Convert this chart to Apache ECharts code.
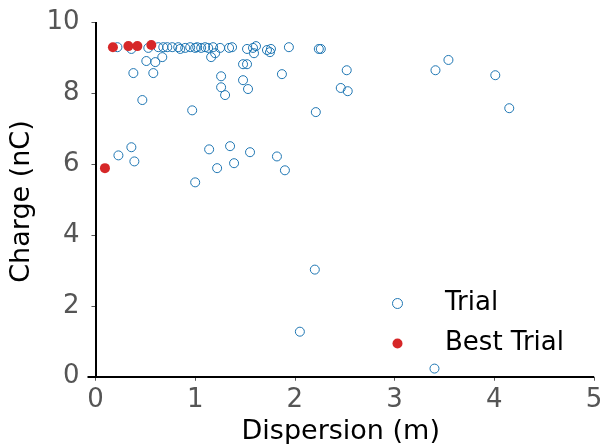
<!DOCTYPE html>
<html>
<head>
<meta charset="utf-8">
<script src="https://cdn.jsdelivr.net/npm/echarts@6/dist/echarts.min.js"></script>
<style>html,body{margin:0;padding:0;background:#fff}#c{width:602px;height:444px}</style>
</head>
<body>
<div id="c"></div>
<script>
// Data
const trialX = [0.22,0.36,0.53,0.63,0.68,0.72,0.77,0.83,0.85,0.90,0.95,1.00,1.02,1.06,1.10,1.13,1.18,1.25,1.34,1.37,1.52,1.58,1.61,1.59,1.72,1.75,1.76,1.94,2.24,2.26,
  1.20,1.16,0.67,0.51,0.60,0.38,0.58,1.26,1.48,1.52,1.48,1.26,1.30,1.53,1.87,0.47,0.97,2.21,2.52,2.46,2.53,3.41,3.54,4.01,4.15,
  0.23,0.36,0.39,1.14,1.35,1.55,1.22,1.39,1.00,1.82,1.90,
  2.20,2.05,3.40];
const trialY = [9.29,9.24,9.27,9.29,9.29,9.29,9.29,9.29,9.24,9.27,9.29,9.27,9.29,9.27,9.29,9.27,9.29,9.27,9.27,9.29,9.24,9.27,9.32,9.12,9.21,9.15,9.24,9.29,9.24,9.24,
  9.12,9.01,9.01,8.90,8.87,8.56,8.56,8.47,8.81,8.81,8.36,8.16,7.94,8.11,8.53,7.80,7.51,7.46,8.64,8.14,8.05,8.64,8.93,8.50,7.57,
  6.24,6.47,6.07,6.41,6.50,6.33,5.88,6.02,5.48,6.21,5.82,
  3.02,1.27,0.23];
const bestX = [0.095,0.175,0.33,0.42,0.56];
const bestY = [5.88,9.29,9.32,9.32,9.35];
const xTicks = [0,1,2,3,4,5];
const yTicks = [0,2,4,6,8,10];
const seriesNames = ['Trial','Best Trial'];
const xTitle = 'Dispersion (m)';
const yTitle = 'Charge (nC)';

const trialData = trialX.map((x,i)=>[x,trialY[i]]);
const bestData = bestX.map((x,i)=>[x,bestY[i]]);

const FONT = 'DejaVu Sans';
const BLUE = '#1f77b4', RED = '#d62728';
const chart = echarts.init(document.getElementById('c'), null, {renderer:'canvas'});
chart.setOption({
  animation:false,
  backgroundColor:'#fff',
  textStyle:{fontFamily:FONT},
  grid:{left:87.5, right:8, top:22, bottom:63, containLabel:false, outerBoundsMode:'none'},
  xAxis:{
    type:'value', min:-0.08, max:5,
    name:xTitle, nameLocation:'middle', nameGap:37,
    nameTextStyle:{fontFamily:FONT, fontSize:27, color:'#000'},
    axisLine:{show:false},
    splitLine:{show:false},
    axisTick:{show:true, length:4, customValues:xTicks, lineStyle:{color:'#555', width:1}},
    axisLabel:{customValues:xTicks, fontFamily:FONT, fontSize:26, color:'#555', margin:6}
  },
  yAxis:{
    type:'value', min:-0.12, max:10,
    name:yTitle, nameLocation:'middle', nameGap:44, nameRotate:90,
    nameTextStyle:{fontFamily:FONT, fontSize:27, color:'#000'},
    axisLine:{show:false},
    splitLine:{show:false},
    axisTick:{show:true, length:4, customValues:yTicks, lineStyle:{color:'#555', width:1}},
    axisLabel:{customValues:yTicks, fontFamily:FONT, fontSize:26, color:'#555', margin:8}
  },
  legend:{
    orient:'vertical', left:387, top:283,
    itemWidth:85, itemHeight:10, itemGap:9,
    textStyle:{fontFamily:FONT, fontSize:26, color:'#000', lineHeight:31},
    data:[
      {name:seriesNames[0], icon:'circle', itemStyle:{color:'rgba(0,0,0,0)', borderColor:BLUE, borderWidth:1, opacity:1}},
      {name:seriesNames[1], icon:'circle', itemStyle:{color:RED, borderWidth:0, opacity:1}}
    ]
  },
  series:[
    {
      name:'spines', type:'scatter', data:[], silent:true,
      markLine:{
        silent:true, symbol:'none', animation:false,
        label:{show:false},
        lineStyle:{color:'#000', width:2, type:'solid'},
        emphasis:{disabled:true},
        data:[
          [{coord:[0,0]},{coord:[0,10]}],
          [{coord:[-0.08,0]},{coord:[5,0]}]
        ]
      }
    },
    {
      name:seriesNames[0], type:'scatter', data:trialData,
      symbol:'circle', symbolSize:9,
      itemStyle:{color:'rgba(0,0,0,0)', borderColor:BLUE, borderWidth:1, opacity:1},
      emphasis:{disabled:true}
    },
    {
      name:seriesNames[1], type:'scatter', data:bestData,
      symbol:'circle', symbolSize:10,
      itemStyle:{color:RED, borderWidth:0, opacity:1},
      emphasis:{disabled:true}
    }
  ]
});
</script>
</body>
</html>
